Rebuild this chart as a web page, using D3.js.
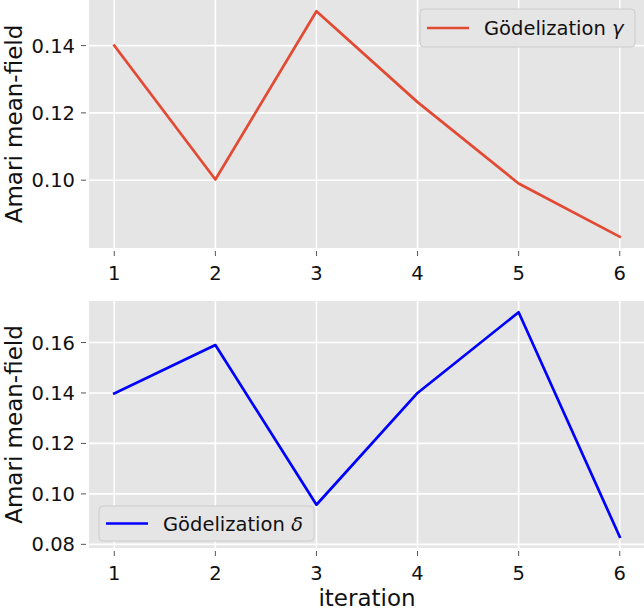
<!DOCTYPE html>
<html>
<head>
<meta charset="utf-8">
<script src="https://cdn.jsdelivr.net/npm/d3@7"></script>
<style>
  html, body { margin: 0; padding: 0; background: #ffffff; }
  svg { display: block; font-family: "DejaVu Sans", sans-serif; }
</style>
</head>
<body>
<div id="chart"></div>
<script>
const iterations = [1, 2, 3, 4, 5, 6];
const gammaValues = [0.1400, 0.1002, 0.1502, 0.1232, 0.0990, 0.0832];
const deltaValues = [0.1398, 0.1590, 0.0957, 0.1400, 0.1720, 0.0830];
const xTicks = [1, 2, 3, 4, 5, 6];
const gammaYTicks = [0.10, 0.12, 0.14];
const deltaYTicks = [0.08, 0.10, 0.12, 0.14, 0.16];

const W = 644, H = 611;
const svg = d3.select("#chart").append("svg").attr("width", W).attr("height", H);

const left = 89, right = 645;
const tickFont = 19.5, labelFont = 23;

function pad(vals) {
  const lo = d3.min(vals), hi = d3.max(vals), p = (hi - lo) * 0.05;
  return [lo - p, hi + p];
}

const x = d3.scaleLinear().domain([0.75, 6.25]).range([left, right]);

function panel(cfg) {
  const y = d3.scaleLinear().domain(pad(cfg.values)).range([cfg.bottom, cfg.top]);
  const g = svg.append("g");
  g.append("rect").attr("x", left).attr("y", cfg.top)
    .attr("width", right - left).attr("height", cfg.bottom - cfg.top)
    .attr("fill", "#E5E5E5");
  // grid
  g.selectAll(".gx").data(xTicks).enter().append("line")
    .attr("x1", d => x(d)).attr("x2", d => x(d))
    .attr("y1", cfg.top).attr("y2", cfg.bottom)
    .attr("stroke", "#ffffff").attr("stroke-width", 1.6);
  g.selectAll(".gy").data(cfg.yTicks).enter().append("line")
    .attr("x1", left).attr("x2", right)
    .attr("y1", d => y(d)).attr("y2", d => y(d))
    .attr("stroke", "#ffffff").attr("stroke-width", 1.6);
  // ticks
  g.selectAll(".tx").data(xTicks).enter().append("line")
    .attr("x1", d => x(d)).attr("x2", d => x(d))
    .attr("y1", cfg.bottom + 3).attr("y2", cfg.bottom + 8)
    .attr("stroke", "#555555").attr("stroke-width", 1);
  g.selectAll(".ty").data(cfg.yTicks).enter().append("line")
    .attr("x1", left - 8).attr("x2", left - 3)
    .attr("y1", d => y(d)).attr("y2", d => y(d))
    .attr("stroke", "#555555").attr("stroke-width", 1);
  // tick labels
  g.selectAll(".lx").data(xTicks).enter().append("text")
    .attr("x", d => x(d)).attr("y", cfg.bottom + 32)
    .attr("text-anchor", "middle").attr("font-size", tickFont).attr("fill", "#111")
    .text(d => d3.format("d")(d));
  g.selectAll(".ly").data(cfg.yTicks).enter().append("text")
    .attr("x", left - 14).attr("y", d => y(d) + 7)
    .attr("text-anchor", "end").attr("font-size", tickFont).attr("fill", "#111")
    .text(d => d3.format(".2f")(d));
  // y label
  const cy = (cfg.top + cfg.bottom) / 2;
  g.append("text").attr("transform", `translate(22,${cy}) rotate(-90)`)
    .attr("text-anchor", "middle").attr("font-size", labelFont).attr("fill", "#111")
    .text("Amari mean-field");
  // line
  const line = d3.line().x((d, i) => x(iterations[i])).y(d => y(d));
  g.append("path").datum(cfg.values).attr("d", line)
    .attr("fill", "none").attr("stroke", cfg.color).attr("stroke-width", 2.7)
    .attr("stroke-linejoin", "round").attr("stroke-linecap", "square");
  // legend
  const L = cfg.legend;
  g.append("rect").attr("x", L.x).attr("y", L.y).attr("width", L.w).attr("height", L.h)
    .attr("rx", 4).attr("fill", "#E5E5E5").attr("stroke", "#CCCCCC").attr("stroke-width", 1);
  g.append("line").attr("x1", L.x + 7).attr("x2", L.x + 49)
    .attr("y1", L.y + L.h / 2).attr("y2", L.y + L.h / 2)
    .attr("stroke", cfg.color).attr("stroke-width", 2.7);
  const t = g.append("text").attr("x", L.x + 64).attr("y", L.y + L.h / 2 + 7)
    .attr("font-size", tickFont).attr("fill", "#111");
  t.append("tspan").text("Gödelization ");
  t.append("tspan").attr("font-style", "italic").text(cfg.symbol);
}

panel({ top: 0, bottom: 248, values: gammaValues, yTicks: gammaYTicks, color: "#E24A33",
  symbol: "γ", legend: { x: 420, y: 9, w: 215, h: 38 } });
panel({ top: 301, bottom: 548, values: deltaValues, yTicks: deltaYTicks, color: "#0000FF",
  symbol: "δ", legend: { x: 99, y: 506, w: 215, h: 35 } });

svg.append("text").attr("x", (left + right) / 2).attr("y", 606)
  .attr("text-anchor", "middle").attr("font-size", labelFont).attr("fill", "#111")
  .text("iteration");
</script>
</body>
</html>
